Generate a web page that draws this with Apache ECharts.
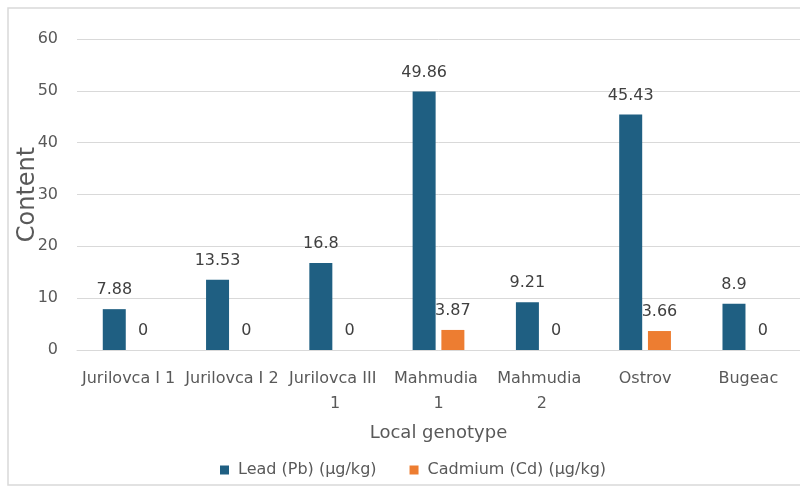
<!DOCTYPE html>
<html>
<head>
<meta charset="utf-8">
<script src="https://cdn.jsdelivr.net/npm/echarts@6/dist/echarts.min.js"></script>
<style>
html,body{margin:0;padding:0;background:#fff;}
#chart{width:800px;height:496px;}
</style>
</head>
<body>
<div id="chart"></div>
<script>
const categories = ["Jurilovca I 1", "Jurilovca I 2", "Jurilovca III 1", "Mahmudia 1", "Mahmudia 2", "Ostrov", "Bugeac"];
const leadValues = [7.88, 13.53, 16.8, 49.86, 9.21, 45.43, 8.9];
const cadmiumValues = [0, 0, 0, 3.87, 0, 3.66, 0];
const seriesNames = ["Lead (Pb) (µg/kg)", "Cadmium (Cd) (µg/kg)"];
const yTicks = [0, 10, 20, 30, 40, 50, 60];

const FONT = "DejaVu Sans";
const chart = echarts.init(document.getElementById('chart'), null, {renderer: 'canvas'});
const labelStyle = {
  show: true, position: 'top', distance: 11,
  fontFamily: FONT, fontSize: 16, color: '#404040'
};
chart.setOption({
  animation: false,
  backgroundColor: '#fff',
  textStyle: {fontFamily: FONT},
  graphic: [{
    type: 'rect', silent: true, z: -1,
    shape: {x: 8, y: 8, width: 800, height: 477},
    style: {fill: 'none', stroke: '#d9d9d9', lineWidth: 1.5}
  }],
  grid: {left: 77, right: 0, top: 39, bottom: 146, containLabel: false},
  legend: {
    data: seriesNames,
    left: 215, top: 457,
    itemWidth: 9, itemHeight: 9, itemGap: 33,
    icon: 'rect',
    textStyle: {fontFamily: FONT, fontSize: 16, color: '#595959', padding: [0, 0, 0, 4]}
  },
  xAxis: {
    type: 'category',
    data: categories,
    name: 'Local genotype',
    nameLocation: 'middle',
    nameGap: 74,
    nameMoveOverlap: false,
    nameTextStyle: {fontFamily: FONT, fontSize: 18, color: '#595959'},
    axisLine: {lineStyle: {color: '#d9d9d9', width: 1}},
    axisTick: {show: false},
    axisLabel: {
      interval: 0, margin: 16, fontFamily: FONT, fontSize: 16, color: '#595959',
      width: 96, overflow: 'break', lineHeight: 25
    }
  },
  yAxis: {
    type: 'value',
    min: 0, max: 60, interval: 10,
    name: 'Content',
    nameLocation: 'middle',
    nameGap: 37,
    nameMoveOverlap: false,
    nameTextStyle: {fontFamily: FONT, fontSize: 24, color: '#595959'},
    axisLine: {show: false},
    axisTick: {show: false},
    axisLabel: {
      margin: 19, fontFamily: FONT, fontSize: 16, color: '#595959',
      formatter: function (v) { return yTicks.indexOf(v) >= 0 ? String(v) : ''; }
    },
    splitLine: {lineStyle: {color: '#d9d9d9', width: 1}}
  },
  series: [
    {
      name: seriesNames[0], type: 'bar', data: leadValues,
      barWidth: 23, barGap: '25%',
      itemStyle: {color: '#1f5f82'},
      label: labelStyle
    },
    {
      name: seriesNames[1], type: 'bar', data: cadmiumValues,
      barWidth: 23,
      itemStyle: {color: '#ed7d31'},
      label: labelStyle
    }
  ]
});
</script>
</body>
</html>
